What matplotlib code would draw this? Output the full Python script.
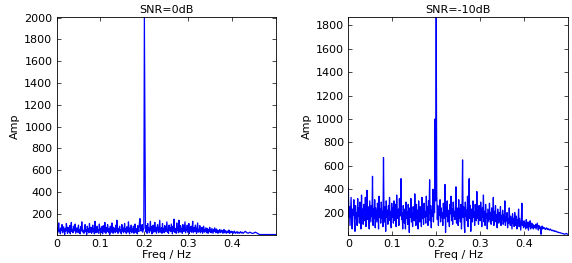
import numpy as np
import matplotlib
matplotlib.use("Agg")
import matplotlib.pyplot as plt

plt.rcParams['font.family'] = ['DejaVu Sans']
plt.rcParams['font.size'] = 8

# frequency grid, 0 .. 0.5 Hz
freq = np.linspace(0, 0.5, 401)

# spectrum amplitudes, SNR = 0 dB
amp_0db = [
    95, 40, 20, 60, 115, 35, 55, 15, 70, 45, 100, 25, 50, 80, 30, 10, 65, 40, 110, 55,
    20, 75, 45, 30, 90, 15, 60, 120, 35, 50, 25, 85, 40, 65, 105, 20, 45, 70, 30, 55,
    95, 25, 50, 15, 80, 40, 125, 60, 30, 45, 20, 70, 100, 35, 55, 10, 85, 40, 60, 25,
    110, 50, 30, 75, 20, 45, 95, 35, 60, 15, 130, 40, 25, 65, 85, 30, 50, 20, 105, 45,
    60, 25, 80, 40, 15, 90, 55, 30, 120, 45, 20, 70, 35, 100, 50, 25, 65, 10, 85, 40,
    30, 115, 55, 20, 75, 40, 60, 25, 95, 35, 140, 50, 20, 65, 45, 85, 30, 55, 15, 100,
    40, 70, 25, 50, 110, 35, 60, 20, 80, 45, 30, 125, 55, 15, 70, 40, 95, 25, 60, 35,
    85, 20, 50, 105, 30, 65, 45, 15, 90, 55, 35, 120, 155, 70, 40, 60, 100, 30, 50, 70,
    2000, 1010, 60, 35, 90, 20, 110, 45, 70, 25, 55, 130, 40, 80, 15, 65, 95, 30, 50, 120,
    35, 75, 20, 60, 100, 45, 25, 85, 140, 30, 55, 70, 20, 110, 40, 65, 25, 90, 50, 35,
    80, 125, 30, 55, 20, 95, 45, 70, 35, 105, 60, 15, 85, 40, 150, 30, 65, 50, 20, 115,
    45, 75, 25, 140, 55, 30, 90, 40, 65, 20, 100, 50, 35, 80, 125, 25, 60, 45, 95, 30,
    55, 110, 20, 70, 40, 85, 30, 60, 130, 25, 50, 75, 35, 95, 45, 20, 65, 115, 30, 55,
    40, 90, 25, 60, 35, 75, 20, 50, 85, 30, 55, 40, 70, 25, 45, 65, 20, 55, 35, 75,
    30, 50, 25, 65, 40, 20, 55, 35, 70, 45, 25, 60, 30, 50, 20, 45, 35, 55, 25, 40,
    50, 30, 45, 20, 40, 55, 25, 35, 45, 20, 30, 40, 25, 35, 50, 20, 30, 25, 40, 30,
    25, 35, 20, 30, 40, 25, 20, 30, 25, 35, 20, 25, 30, 20, 25, 35, 28, 22, 30, 25,
    20, 25, 30, 35, 38, 32, 28, 25, 22, 20, 24, 27, 30, 28, 25, 22, 20, 18, 20, 22,
    24, 28, 30, 28, 25, 22, 18, 15, 12, 10, 9, 8, 8, 9, 8, 8, 9, 8, 8, 9,
    8, 9, 8, 8, 9, 8, 8, 9, 8, 8, 9, 8, 8, 9, 8, 8, 9, 8, 8, 9,
    8,
]

# spectrum amplitudes, SNR = -10 dB
amp_m10db = [
    410, 160, 250, 90, 200, 330, 140, 60, 230, 180, 310, 120, 40, 260, 150, 200, 90, 320, 170, 240,
    110, 290, 200, 60, 350, 150, 230, 100, 270, 180, 130, 330, 80, 210, 390, 140, 250, 170, 60, 300,
    200, 120, 260, 170, 510, 90, 230, 150, 310, 70, 240, 180, 120, 280, 200, 60, 340, 160, 230, 110,
    290, 150, 210, 80, 670, 180, 120, 250, 40, 300, 160, 220, 100, 260, 180, 330, 130, 210, 70, 280,
    160, 240, 110, 300, 190, 130, 270, 80, 350, 210, 150, 230, 90, 320, 170, 250, 490, 140, 200, 60,
    260, 170, 110, 230, 60, 290, 150, 210, 100, 270, 190, 30, 240, 160, 320, 120, 200, 80, 250, 170,
    130, 360, 190, 90, 270, 150, 220, 60, 300, 170, 120, 250, 190, 80, 330, 150, 230, 100, 280, 160,
    210, 110, 340, 170, 250, 90, 300, 190, 480, 130, 260, 70, 220, 170, 400, 120, 250, 200, 1000, 300,
    1900, 350, 140, 260, 90, 220, 180, 310, 120, 240, 160, 200, 90, 280, 150, 230, 440, 30, 250, 170,
    300, 120, 220, 160, 80, 270, 190, 340, 130, 230, 100, 290, 170, 210, 140, 260, 420, 110, 240, 180,
    90, 310, 150, 230, 120, 270, 60, 200, 650, 160, 250, 100, 30, 290, 170, 220, 130, 340, 80, 200,
    490, 150, 260, 40, 230, 180, 120, 300, 160, 210, 90, 270, 190, 130, 380, 150, 220, 100, 260, 170,
    130, 290, 200, 80, 240, 160, 350, 120, 210, 90, 270, 150, 190, 60, 230, 170, 120, 280, 140, 200,
    100, 240, 170, 130, 330, 90, 210, 150, 260, 120, 180, 70, 230, 150, 110, 200, 130, 250, 90, 170,
    140, 220, 100, 180, 120, 300, 90, 160, 130, 200, 70, 150, 110, 240, 130, 90, 170, 120, 60, 190,
    110, 150, 80, 200, 130, 90, 170, 60, 140, 110, 230, 80, 150, 100, 50, 130, 280, 90, 120, 70,
    130, 80, 110, 60, 140, 90, 70, 120, 50, 100, 80, 130, 60, 90, 110, 70, 100, 60, 80, 90,
    70, 100, 60, 85, 110, 75, 50, 90, 65, 80, 55, 15, 70, 85, 60, 75, 65, 70, 60, 55,
    65, 70, 60, 55, 62, 58, 50, 55, 60, 52, 48, 45, 50, 46, 42, 45, 40, 38, 42, 36,
    35, 32, 34, 30, 28, 30, 27, 25, 24, 22, 20, 22, 18, 16, 15, 18, 20, 22, 18, 15,
    15,
]

titles = ["SNR=0dB", "SNR=-10dB"]
xticks = [0, 0.1, 0.2, 0.3, 0.4]
xtick_labels = ["0", "0.1", "0.2", "0.3", "0.4"]

fig = plt.figure(figsize=(5.72, 2.63), dpi=100)
ax1 = fig.add_axes([0.0988, 0.108, 0.384, 0.827])
ax2 = fig.add_axes([0.609, 0.108, 0.384, 0.827])

panels = [
    (ax1, amp_0db, (8, 2005), np.arange(200, 2001, 200)),
    (ax2, amp_m10db, (12, 1870), np.arange(200, 1801, 200)),
]

for (ax, amp, ylim, yticks), title in zip(panels, titles):
    ax.plot(freq, amp, color='#0000ff', lw=0.9)
    ax.set_xlim(0, 0.5)
    ax.set_ylim(*ylim)
    ax.set_xticks(xticks)
    ax.set_xticklabels(xtick_labels)
    ax.set_yticks(yticks)
    ax.tick_params(direction='in', length=3, width=0.5, top=True, right=True, pad=3)
    for s in ax.spines.values():
        s.set_linewidth(0.6)
    ax.set_title(title, fontsize=8, pad=3)
    ax.set_xlabel("Freq / Hz", labelpad=1)
    ax.set_ylabel("Amp", labelpad=3)

fig.savefig("out.png", dpi=100)
